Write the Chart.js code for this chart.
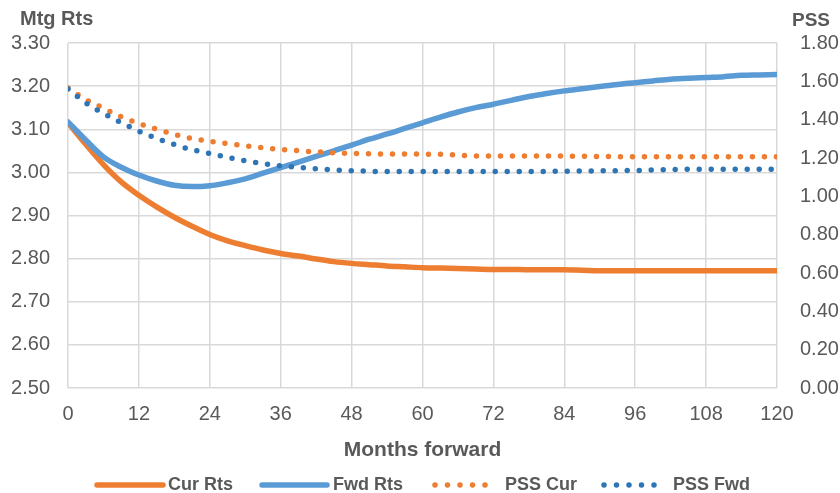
<!DOCTYPE html>
<html>
<head>
<meta charset="utf-8">
<title>Mortgage rates and PSS</title>
<script src="https://cdn.jsdelivr.net/npm/chart.js@4"></script>
<style>
  html, body { margin: 0; padding: 0; background: #ffffff; }
  #wrap { position: relative; width: 840px; height: 493px; }
</style>
</head>
<body>
<div id="wrap"><canvas id="chart"></canvas></div>
<script>
// Months forward (x axis)
const months = [0, 3, 6, 9, 12, 15, 18, 21, 24, 27, 30, 33, 36, 39, 42, 45, 48, 51, 54, 57, 60,
  63, 66, 69, 72, 75, 78, 81, 84, 87, 90, 93, 96, 99, 102, 105, 108, 111, 114, 117, 120];

// Mortgage rates (left axis)
const curRts = [3.115, 3.065, 3.018, 2.978, 2.947, 2.920, 2.896, 2.875, 2.856, 2.841, 2.830, 2.820, 2.812,
  2.806, 2.799, 2.793, 2.789, 2.786, 2.783, 2.781, 2.779, 2.778, 2.777, 2.776, 2.775, 2.775, 2.774, 2.774,
  2.774, 2.773, 2.772, 2.772, 2.772, 2.772, 2.772, 2.772, 2.772, 2.772, 2.772, 2.772, 2.772];
const fwdRts = [3.117, 3.075, 3.036, 3.012, 2.994, 2.980, 2.970, 2.967, 2.969, 2.976, 2.985, 2.998, 3.011,
  3.024, 3.037, 3.050, 3.063, 3.077, 3.089, 3.102, 3.115, 3.128, 3.140, 3.150, 3.158, 3.167, 3.176, 3.183,
  3.189, 3.194, 3.199, 3.204, 3.208, 3.212, 3.216, 3.218, 3.220, 3.222, 3.225, 3.226, 3.227];

// PSS (right axis)
const pssCur = [1.565, 1.505, 1.460, 1.415, 1.380, 1.350, 1.323, 1.302, 1.287, 1.275, 1.264, 1.254, 1.245,
  1.238, 1.232, 1.227, 1.224, 1.222, 1.221, 1.221, 1.220, 1.219, 1.215, 1.211, 1.210, 1.210, 1.210, 1.210,
  1.210, 1.209, 1.208, 1.207, 1.206, 1.206, 1.206, 1.206, 1.206, 1.206, 1.206, 1.206, 1.206];
const pssFwd = [1.560, 1.488, 1.433, 1.385, 1.340, 1.302, 1.270, 1.243, 1.224, 1.203, 1.185, 1.171, 1.159,
  1.151, 1.144, 1.138, 1.134, 1.131, 1.129, 1.129, 1.129, 1.129, 1.129, 1.129, 1.129, 1.129, 1.129, 1.130,
  1.131, 1.132, 1.133, 1.134, 1.135, 1.137, 1.140, 1.141, 1.141, 1.141, 1.141, 1.141, 1.141];

const seriesNames = ['Cur Rts', 'Fwd Rts', 'PSS Cur', 'PSS Fwd'];

const ORANGE = '#ED7D31';
const BLUE = '#5B9BD5';
const DARK_BLUE = '#2E75B6';
const TEXT = '#595959';
const GRID = '#D9D9D9';
const FONT = '"Liberation Sans", Arial, sans-serif';

const toPoints = (vals) => vals.map((v, i) => ({ x: months[i], y: v }));

const solid = (label, vals, color, order) => ({
  label, data: toPoints(vals), yAxisID: 'y', order,
  borderColor: color, backgroundColor: color, borderWidth: 5.5,
  borderCapStyle: 'round', borderJoinStyle: 'round',
  pointRadius: 0, cubicInterpolationMode: 'monotone', fill: false
});
const dotted = (label, vals, color, order) => ({
  label, data: toPoints(vals), yAxisID: 'y1', order,
  borderColor: color, backgroundColor: color, borderWidth: 5.5,
  borderDash: [0, 12], borderCapStyle: 'round',
  pointRadius: 0, cubicInterpolationMode: 'monotone', fill: false
});

// Axis titles and the legend row drawn onto the canvas
const decorations = {
  id: 'decorations',
  afterDraw(chart) {
    const { ctx, chartArea } = chart;
    ctx.save();
    ctx.fillStyle = TEXT;
    ctx.textBaseline = 'alphabetic';
    ctx.font = 'bold 20px ' + FONT;
    ctx.textAlign = 'left';
    ctx.fillText('Mtg Rts', 20, 25);
    ctx.font = 'bold 19px ' + FONT;
    ctx.fillText('PSS', 792, 26);

    ctx.font = 'bold 21px ' + FONT;
    ctx.textAlign = 'center';
    ctx.fillText('Months forward', (chartArea.left + chartArea.right) / 2, 456);

    // legend
    const legendY = 485;
    const items = [
      { x0: 97, x1: 163, tx: 168 },
      { x0: 262, x1: 327, tx: 333 },
      { x0: 435, x1: 497, tx: 505 },
      { x0: 604, x1: 656, tx: 673 }
    ];
    ctx.font = 'bold 18px ' + FONT;
    ctx.textAlign = 'left';
    ctx.textBaseline = 'middle';
    chart.data.datasets.forEach((ds, i) => {
      const it = items[i];
      ctx.save();
      ctx.strokeStyle = ds.borderColor;
      ctx.lineWidth = ds.borderWidth;
      ctx.lineCap = 'round';
      if (ds.borderDash) ctx.setLineDash([0, 12.5]);
      ctx.beginPath();
      ctx.moveTo(it.x0, legendY);
      ctx.lineTo(it.x1, legendY);
      ctx.stroke();
      ctx.restore();
      ctx.fillStyle = TEXT;
      ctx.fillText(ds.label, it.tx, legendY);
    });
    ctx.restore();
  }
};

new Chart(document.getElementById('chart'), {
  type: 'line',
  data: {
    datasets: [
      solid(seriesNames[0], curRts, ORANGE, 4),
      solid(seriesNames[1], fwdRts, BLUE, 3),
      dotted(seriesNames[2], pssCur, ORANGE, 2),
      dotted(seriesNames[3], pssFwd, DARK_BLUE, 1)
    ]
  },
  options: {
    responsive: true,
    maintainAspectRatio: false,
    animation: false,
    layout: { padding: { top: 43, left: 0, right: 0, bottom: 0 } },
    plugins: { legend: { display: false }, tooltip: { enabled: false }, title: { display: false } },
    scales: {
      x: {
        type: 'linear', min: 0, max: 120,
        ticks: { stepSize: 12, color: TEXT, font: { family: FONT, size: 20 }, padding: 14, maxRotation: 0 },
        grid: { color: GRID, lineWidth: 1.5, drawTicks: false },
        border: { display: false },
        afterFit: (s) => { s.height = 105; }
      },
      y: {
        position: 'left', min: 2.5, max: 3.3,
        ticks: { stepSize: 0.1, color: TEXT, font: { family: FONT, size: 20 }, padding: 18,
          callback: (v) => Number(v).toFixed(2) },
        grid: { color: GRID, lineWidth: 1.5, drawTicks: false },
        border: { display: false },
        afterFit: (s) => { s.width = 68; }
      },
      y1: {
        position: 'right', min: 0, max: 1.8,
        ticks: { stepSize: 0.2, color: TEXT, font: { family: FONT, size: 20 }, padding: 23,
          callback: (v) => Number(v).toFixed(2) },
        grid: { drawOnChartArea: false, drawTicks: false },
        border: { display: false },
        afterFit: (s) => { s.width = 63; }
      }
    }
  },
  plugins: [decorations]
});
</script>
</body>
</html>
